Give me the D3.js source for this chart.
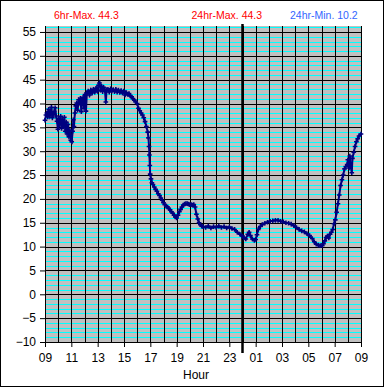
<!DOCTYPE html>
<html lang="en">
<head>
<meta charset="utf-8">
<title>Temperature 24hr</title>
<script src="https://d3js.org/d3.v7.min.js"></script>
<style>
body { margin: 0; background: #fff; }
svg { display: block; font-family: "Liberation Sans", Arial, sans-serif; }
.axis path { display: none; }
.axis line { stroke: #000; }
.axis text { font-size: 12px; fill: #000; }
</style>
</head>
<body>
<svg id="svgMain" width="385" height="388"></svg>
<script>

// hours after 09:00
var hrs = [0.00,0.07,0.14,0.21,0.28,0.35,0.42,0.49,0.56,0.63,0.70,0.77,0.84,0.91,0.98,1.05,1.12,1.19,1.26,1.33,
  1.40,1.47,1.54,1.61,1.68,1.75,1.82,1.89,1.96,2.03,2.10,2.15,2.20,2.27,2.34,2.41,2.48,2.55,2.62,2.69,
  2.76,2.83,2.90,2.97,3.04,3.11,3.18,3.28,3.38,3.48,3.58,3.68,3.78,3.88,3.98,4.06,4.14,4.22,4.30,4.38,
  4.45,4.55,4.62,4.68,4.78,4.88,4.98,5.08,5.18,5.28,5.38,5.48,5.58,5.68,5.78,5.88,5.98,6.08,6.18,6.28,
  6.38,6.48,6.58,6.68,6.78,6.88,7.00,7.10,7.20,7.30,7.40,7.50,7.60,7.70,7.80,7.86,7.90,7.93,7.96,7.99,
  8.05,8.12,8.20,8.30,8.40,8.50,8.60,8.70,8.80,8.90,9.00,9.10,9.20,9.30,9.40,9.50,9.60,9.70,9.80,9.90,
  10.00,10.10,10.20,10.30,10.40,10.50,10.60,10.70,10.80,10.90,11.00,11.10,11.20,11.30,11.40,11.50,11.60,11.70,11.80,11.90,
  12.00,12.20,12.40,12.60,12.80,13.00,13.20,13.40,13.60,13.80,14.00,14.20,14.40,14.60,14.80,15.00,15.10,15.25,15.40,15.50,
  15.60,15.75,15.90,16.00,16.10,16.20,16.35,16.50,16.70,16.90,17.10,17.30,17.50,17.70,17.90,18.10,18.30,18.50,18.70,18.90,
  19.10,19.30,19.50,19.70,19.90,20.10,20.30,20.45,20.60,20.75,20.90,21.05,21.15,21.25,21.35,21.45,21.55,21.65,21.75,21.85,
  21.95,22.05,22.15,22.25,22.35,22.45,22.55,22.65,22.75,22.85,22.95,23.00,23.10,23.15,23.20,23.30,23.35,23.45,23.55,23.65,
  23.75,23.85,24.00];

var temp = [36.5,37.6,38.0,37.2,38.8,37.4,37.9,39.2,37.0,37.7,38.3,39.1,37.4,36.3,34.6,36.9,35.5,37.3,34.8,36.6,
  35.1,37.1,34.2,36.1,33.6,35.6,33.0,34.4,32.3,32.0,34.2,36.6,35.2,38.0,39.5,40.1,38.6,40.8,40.2,41.1,
  38.3,40.6,41.3,39.0,41.9,38.4,42.1,42.6,41.8,42.8,42.2,43.0,42.4,43.2,42.6,43.8,44.3,42.8,43.6,42.5,
  43.4,42.8,40.3,42.9,43.0,42.4,43.1,42.6,42.9,42.5,43.0,42.4,42.8,42.3,42.7,42.2,42.6,41.8,42.3,41.9,
  42.1,41.6,41.4,41.0,40.7,40.4,40.0,39.0,38.5,38.0,37.6,37.0,36.2,35.2,34.0,32.8,31.0,29.2,27.0,25.2,
  24.2,23.4,23.0,22.5,22.0,21.6,21.1,20.7,20.2,19.7,19.2,18.8,18.5,18.3,18.0,17.7,17.3,17.0,16.6,16.2,
  16.0,16.6,17.3,17.8,18.3,18.7,18.9,19.0,19.0,18.9,18.8,18.8,18.7,18.8,18.3,16.8,15.8,15.0,14.6,14.3,
  14.2,14.0,14.3,13.9,14.2,14.0,14.3,14.0,14.2,13.9,14.1,13.8,13.6,13.0,12.6,12.2,11.8,11.6,12.6,13.0,
  12.3,11.6,11.3,11.5,12.5,13.6,14.2,14.6,14.9,15.1,15.3,15.4,15.5,15.5,15.3,15.2,15.0,14.9,14.7,14.4,
  14.0,13.6,13.3,13.1,12.7,12.3,11.7,11.0,10.5,10.3,10.2,10.2,10.6,11.2,11.9,12.2,11.8,12.6,13.0,13.6,
  14.8,15.6,17.2,19.0,20.8,22.8,24.0,25.0,26.3,26.8,27.2,28.2,26.5,29.0,27.0,25.5,28.5,29.8,31.0,32.0,
  32.6,33.2,33.6];

var xTicks = [0,2,4,6,8,10,12,14,16,18,20,22,24];
var yTicks = [-10,-5,0,5,10,15,20,25,30,35,40,45,50,55];
var titles = ["6hr-Max. 44.3", "24hr-Max. 44.3", "24hr-Min. 10.2"];

var svg = d3.select("svg");

var x = d3.scaleLinear().domain([0, 24]).range([45, 361]),
    y = d3.scaleLinear().domain([-10, 56.25]).range([342, 26]);

function px(v) { return Math.round(v) + 0.5; }

// outer frame
svg.append("rect")
    .attr("x", 0.5).attr("y", 0.5)
    .attr("width", 383).attr("height", 386)
    .attr("fill", "#fff").attr("stroke", "#000");

// plot background
svg.append("rect")
    .attr("x", x(0)).attr("y", y(56.25))
    .attr("width", x(24) - x(0)).attr("height", y(-10) - y(56.25))
    .attr("fill", "#c0c0c0");

// minor (cyan) horizontal lines every degree
svg.append("g").selectAll("line")
  .data(d3.range(-9, 57).filter(function(v) { return v % 5 != 0; }))
  .enter().append("line")
    .attr("x1", x(0)).attr("x2", x(24))
    .attr("y1", function(d) { return px(y(d)); })
    .attr("y2", function(d) { return px(y(d)); })
    .attr("stroke", "#00ffff")
    .attr("shape-rendering", "crispEdges");

// major horizontal lines
svg.append("g").selectAll("line")
  .data(yTicks)
  .enter().append("line")
    .attr("x1", x(0)).attr("x2", x(24))
    .attr("y1", function(d) { return px(y(d)); })
    .attr("y2", function(d) { return px(y(d)); })
    .attr("stroke", "#000")
    .attr("shape-rendering", "crispEdges");

// hourly vertical lines
svg.append("g").selectAll("line")
  .data(d3.range(0, 25))
  .enter().append("line")
    .attr("x1", function(d) { return px(x(d)); })
    .attr("x2", function(d) { return px(x(d)); })
    .attr("y1", y(56.25)).attr("y2", y(-10))
    .attr("stroke", "#000")
    .attr("shape-rendering", "crispEdges");

// midnight marker
svg.append("line")
    .attr("x1", x(15)).attr("x2", x(15))
    .attr("y1", 24).attr("y2", 353)
    .attr("stroke", "#000").attr("stroke-width", 2.5);

// axes
svg.append("g")
    .attr("class", "axis")
    .attr("transform", "translate(" + x(0) + ",0)")
    .call(d3.axisLeft(y).tickValues(yTicks).tickSize(5).tickPadding(4));

svg.append("g")
    .attr("class", "axis")
    .attr("transform", "translate(0," + y(-10) + ")")
    .call(d3.axisBottom(x).tickValues(xTicks).tickSize(5).tickPadding(6.5)
      .tickFormat(function(d) { return d3.format("02")((d + 9) % 24); }));

svg.append("text")
    .attr("x", 196).attr("y", 378.5)
    .attr("text-anchor", "middle")
    .style("font-size", "12px")
    .text("Hour");

// header values
svg.append("text").attr("x", 54).attr("y", 18.5)
    .style("font-size", "10.5px").attr("fill", "#ff0000").text(titles[0]);
svg.append("text").attr("x", 191.5).attr("y", 18.5)
    .style("font-size", "10.5px").attr("fill", "#ff0000").text(titles[1]);
svg.append("text").attr("x", 290).attr("y", 18.5)
    .style("font-size", "10.5px").attr("fill", "#3366ff").text(titles[2]);

// temperature series
var pts = hrs.map(function(h, i) { return [h, temp[i]]; });

svg.append("path")
    .datum(pts)
    .attr("fill", "none")
    .attr("stroke", "#000080")
    .attr("stroke-width", 2)
    .attr("d", d3.line().x(function(d) { return x(d[0]); }).y(function(d) { return y(d[1]); }));

svg.append("g").selectAll("path")
  .data(pts)
  .enter().append("path")
    .attr("transform", function(d) { return "translate(" + x(d[0]) + "," + y(d[1]) + ")"; })
    .attr("d", d3.symbol(d3.symbolCross, 12))
    .attr("fill", "#000080");

</script>
</body>
</html>
